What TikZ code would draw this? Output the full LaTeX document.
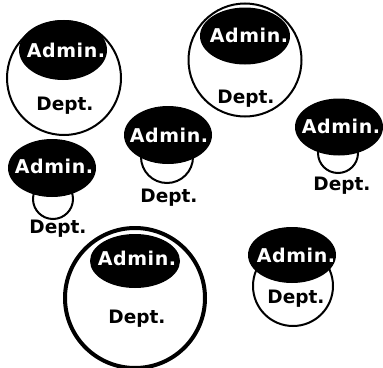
\documentclass[tikz,border=0pt]{standalone}
\usepackage{fontspec}
\setmainfont{DejaVu Sans}
\usetikzlibrary{shapes.geometric}
\begin{document}
\begin{tikzpicture}[x=1pt,y=-1pt,
  deptcirc/.style={circle,draw=black,fill=white,line width=2pt,inner sep=0pt},
  thickcirc/.style={deptcirc,line width=4pt},
  adminell/.style={ellipse,fill=black,inner sep=0pt},
  admintxt/.style={anchor=base,text=white,font=\bfseries\fontsize{19}{21}\selectfont\addfontfeature{LetterSpace=3},inner sep=0pt},
  depttxt/.style={anchor=base,text=black,font=\bfseries\fontsize{18.5}{21}\selectfont,inner sep=0pt}]
\useasboundingbox (0,0) rectangle (383,367);
% group 1
\node[deptcirc,minimum size=114pt] (c1) at (64,78) {};
\node[adminell,minimum width=88pt,minimum height=60pt] (e1) at (63,50) {};
\node[admintxt] (a1) at (66,57) {Admin.};
\node[depttxt] (d1) at (65,110) {Dept.};
% group 2
\node[deptcirc,minimum size=113pt] (c2) at (245,60) {};
\node[adminell,minimum width=90pt,minimum height=57pt] (e2) at (245,36) {};
\node[admintxt] (a2) at (249,42) {Admin.};
\node[depttxt] (d2) at (246,103) {Dept.};
% group 3
\node[deptcirc,minimum size=52pt] (c3) at (167,157) {};
\node[adminell,minimum width=88pt,minimum height=58pt] (e3) at (168,135) {};
\node[admintxt] (a3) at (169,142) {Admin.};
\node[depttxt] (d3) at (169,202) {Dept.};
% group 4
\node[deptcirc,minimum size=40pt] (c4) at (338,153) {};
\node[adminell,minimum width=88pt,minimum height=57pt] (e4) at (339,127) {};
\node[admintxt] (a4) at (341,133) {Admin.};
\node[depttxt] (d4) at (342,190) {Dept.};
% group 5
\node[deptcirc,minimum size=40pt] (c5) at (53,199) {};
\node[adminell,minimum width=88pt,minimum height=58pt] (e5) at (52,168) {};
\node[admintxt] (a5) at (54,173) {Admin.};
\node[depttxt] (d5) at (58,233) {Dept.};
% group 6
\node[thickcirc,minimum size=140pt] (c6) at (135,298) {};
\node[adminell,minimum width=90pt,minimum height=54pt] (e6) at (135,261) {};
\node[admintxt] (a6) at (137,265) {Admin.};
\node[depttxt] (d6) at (137,323) {Dept.};
% group 7
\node[deptcirc,minimum size=80pt] (c7) at (293,286) {};
\node[adminell,minimum width=88pt,minimum height=56pt] (e7) at (292,255) {};
\node[admintxt] (a7) at (296,262) {Admin.};
\node[depttxt] (d7) at (296,303) {Dept.};
\end{tikzpicture}
\end{document}
